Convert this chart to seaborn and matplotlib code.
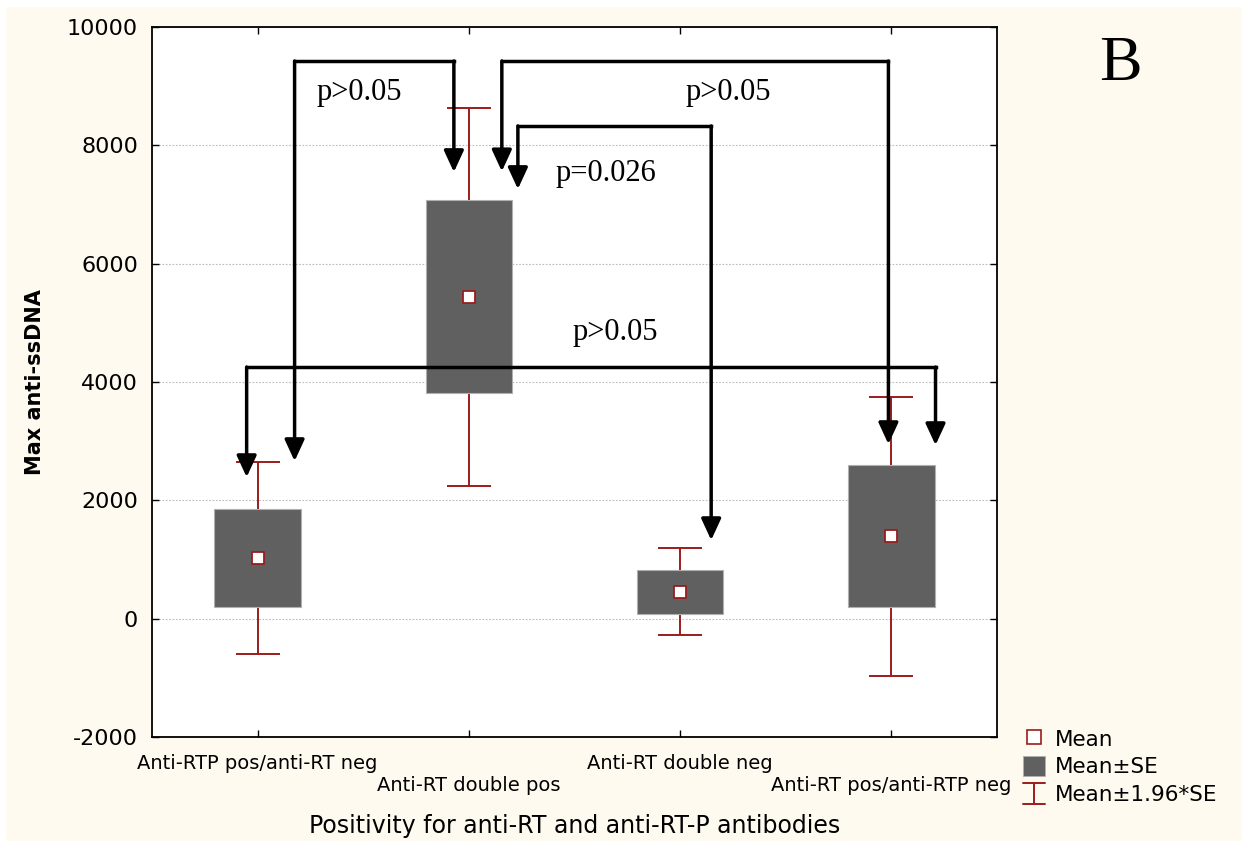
import matplotlib
matplotlib.use("Agg")
import matplotlib.pyplot as plt
from matplotlib.legend_handler import HandlerBase
from matplotlib.lines import Line2D
from matplotlib.patches import Patch, Rectangle
import numpy as np
import seaborn as sns

groups = ["Anti-RTP pos/anti-RT neg", "Anti-RT double pos", "Anti-RT double neg", "Anti-RT pos/anti-RTP neg"]
means = [1025, 5440, 455, 1390]
se = [825, 1630, 375, 1200]
yticks = [-2000, 0, 2000, 4000, 6000, 8000, 10000]

BOX = "#606060"; RED = "#9b1c1c"; CREAM = "#fffaf0"
SERIF = ["Liberation Serif", "DejaVu Serif"]

sns.set_style("white")
plt.rcParams["font.family"] = ["DejaVu Sans"]
plt.rcParams["axes.unicode_minus"] = False
plt.rcParams["text.color"] = "black"
plt.rcParams["axes.labelcolor"] = "black"
plt.rcParams["xtick.color"] = "black"
plt.rcParams["ytick.color"] = "black"


class IBarHandler(HandlerBase):
    # legend key: red I-shaped whisker
    def create_artists(self, legend, orig_handle, x0, y0, width, height, fontsize, trans):
        cx = -x0 + width / 2; top = -y0 + height; bot = -y0; h = width / 2
        segs = [((cx, cx), (bot, top)), ((cx - h, cx + h), (top, top)), ((cx - h, cx + h), (bot, bot))]
        return [Line2D(xs, ys, color=RED, lw=1.4, transform=trans) for xs, ys in segs]


fig = plt.figure(figsize=(12.42, 8.41), dpi=100)
fig.patch.set_facecolor("white")
fig.patches.append(Rectangle((6 / 1242, 0), 1, 1 - 7 / 841, transform=fig.transFigure, facecolor=CREAM, edgecolor="none", zorder=-10))
ax = fig.add_axes([152 / 1242, 104 / 841, 845 / 1242, 710 / 841])
ax.set_facecolor("white")

m = np.array(means); s = np.array(se); pos = np.arange(len(groups))
ax.errorbar(pos, m, yerr=1.96 * s, fmt="none", ecolor=RED, elinewidth=1.4, capsize=15.5, capthick=1.4, zorder=2)
sns.barplot(x=pos, y=2 * s, bottom=m - s, color=BOX, width=0.41, saturation=1, edgecolor="#b0b0b0", linewidth=0.8, ax=ax, zorder=3, native_scale=True)
sns.scatterplot(x=pos, y=m, marker="s", s=80, color="white", edgecolor=RED, linewidth=1.3, ax=ax, zorder=4)

ax.set_xlim(-0.5, 3.5); ax.set_ylim(-2000, 10000)
ax.set_yticks(yticks)
ax.set_xticks(pos)
ax.set_xticklabels([g if i % 2 == 0 else "\n" + g for i, g in enumerate(groups)], fontsize=14)
ax.tick_params(axis="y", labelsize=16, direction="in", length=5, width=1, right=True, left=True, pad=10)
ax.tick_params(axis="x", direction="in", length=5, width=1, top=True, bottom=True, pad=12)
ax.yaxis.grid(True, linestyle=(0, (1.5, 1.5)), color="#bbbbbb", linewidth=0.8)
ax.xaxis.grid(False)
for sp in ax.spines.values():
    sp.set_color("black"); sp.set_linewidth(1.3)
ax.set_xlabel("Positivity for anti-RT and anti-RT-P antibodies", fontsize=17, labelpad=14)
ax.set_ylabel("Max anti-ssDNA", fontsize=15, fontweight="bold", labelpad=16)

# comparison brackets: left x, right x, bar y, left tip y, right tip y, label, label position
brackets = [
    (0.175, 0.929, 9425, 2663, 7548, "p>0.05", (0.48, 8900)),
    (1.156, 2.986, 9425, 7560, 2950, "p>0.05", (2.227, 8900)),
    (1.232, 2.147, 8327, 7261, 1327, "p=0.026", (1.649, 7530)),
    (-0.052, 3.209, 4252, 2392, 2933, "p>0.05", (1.692, 4843)),
]
for xl, xr, yb, tl, tr, lab, (lx, ly) in brackets:
    ax.plot([xl, xr], [yb, yb], color="black", lw=2.5, solid_capstyle="projecting", zorder=5)
    for x, tip in ((xl, tl), (xr, tr)):
        ax.annotate("", xy=(x, tip), xytext=(x, yb), zorder=5,
                    arrowprops=dict(arrowstyle="-|>,head_length=0.65,head_width=0.3", mutation_scale=20,
                                    lw=2.5, color="black", shrinkA=0, shrinkB=0))
    ax.text(lx, ly, lab, fontsize=22, family=SERIF, ha="center", va="center", zorder=6)

fig.text(1120 / 1242, 1 - 65 / 841, "B", fontsize=46, family=SERIF, ha="center", va="center")

ibar = Line2D([], [], color=RED)
handles = [Line2D([], [], marker="s", linestyle="none", markersize=10, markerfacecolor="white", markeredgecolor=RED, markeredgewidth=1.2),
           Patch(facecolor=BOX, edgecolor="#b0b0b0", linewidth=0.6),
           ibar]
fig.legend(handles, ["Mean", "Mean±SE", "Mean±1.96*SE"], loc="upper left", bbox_to_anchor=(1023 / 1242, 1 - 728 / 841),
           frameon=False, fontsize=15.5, handlelength=1.0, handleheight=1.1, handletextpad=0.5, labelspacing=0.28,
           borderpad=0, borderaxespad=0, handler_map={ibar: IBarHandler()})

fig.savefig("out.png", dpi=100, facecolor=fig.get_facecolor())
